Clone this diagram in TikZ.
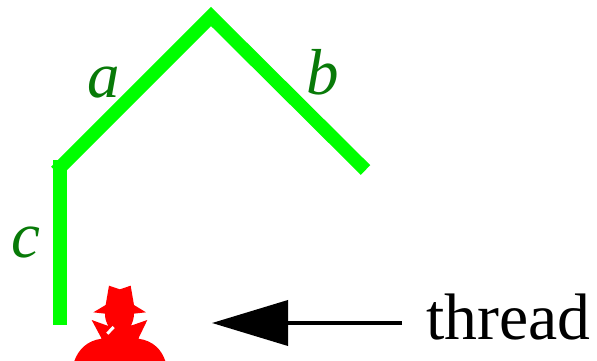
\documentclass[tikz,border=0pt]{standalone}
\usepackage{fontspec}
\setmainfont{Liberation Serif}
\usetikzlibrary{arrows.meta}
\definecolor{segcol}{RGB}{0,255,0}
\definecolor{labcol}{RGB}{8,122,8}
\definecolor{spy}{RGB}{255,0,0}
\tikzset{
  seg/.style={draw=segcol,line width=13.5pt,miter limit=10},
  lab/.style={text=labcol,font=\fontsize{65}{65}\selectfont\itshape,anchor=base west,inner sep=0pt},
  txt/.style={text=black,font=\fontsize{65.7}{65.7}\selectfont,anchor=base west,inner sep=0pt},
  arr/.style={draw=black,line width=3.8pt,-{Triangle[length=76pt,width=45pt]}}
}
\begin{document}
\begin{tikzpicture}[x=1pt,y=-1pt]
\useasboundingbox (0,0) rectangle (597,361);
\coordinate (A) at (56,171.5);
\coordinate (T) at (211,16.5);
\coordinate (B) at (365.5,170);
\coordinate (C1) at (60,160);
\coordinate (C2) at (60,325);
\draw[seg] (A) -- (T) -- (B);
\draw[seg] (C1) -- (C2);
\node[lab] (la) at (87,97) {a};
\node[lab] (lb) at (306,95) {b};
\node[lab] (lc) at (11,257) {c};
% figure (reference zoom coordinates, 1/3 scale)
\begin{scope}[shift={(60,270)},x=0.3333pt,y=-0.3333pt]
\fill[spy] (147,47) -- (180,58) -- (212,47) -- (222,105) -- (258,127) -- (222,131)
  .. controls (222,145) and (218,155) .. (213,167) -- (262,150) -- (235,206)
  .. controls (280,212) and (305,240) .. (316,273) -- (43,273)
  .. controls (55,240) and (80,212) .. (125,206) -- (95,150) -- (145,168)
  .. controls (138,155) and (135,145) .. (135,131) -- (100,127) -- (137,105) -- cycle;
\draw[white,line width=3pt] (142,191) -- (161,171);
\end{scope}
\node[txt] (th) at (426,339) {thread};
\coordinate (AS) at (402,323);
\coordinate (AE) at (212,323);
\draw[arr] (AS) -- (AE);
\end{tikzpicture}
\end{document}
